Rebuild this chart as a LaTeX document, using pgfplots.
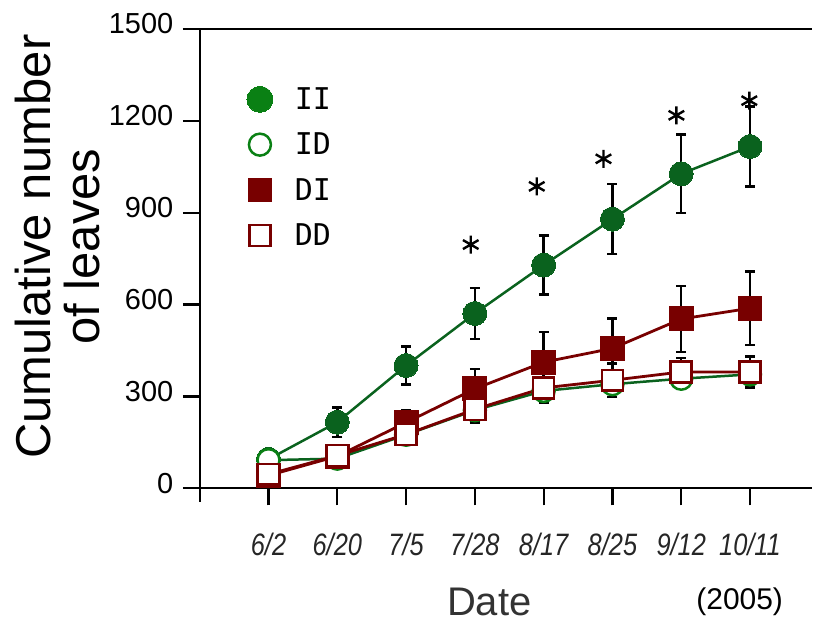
\documentclass[border=0pt]{standalone}
\usepackage{pgfplots}
\pgfplotsset{compat=1.18}
\usepackage{fontspec}
\setmainfont{Liberation Sans}
\newfontfamily\legfont{DejaVu Sans Mono}
\definecolor{gII}{RGB}{10,98,30}
\definecolor{gID}{RGB}{10,128,20}
\definecolor{rD}{RGB}{120,0,0}
\newcommand{\cl}[1]{\scalebox{0.82}[1]{#1}}
\pgfplotstableread{
x y e
0 95 10
1 216 48
2 401 62
3 571 83
4 729 96
5 879 114
6 1027 128
7 1116 130
}\dII
\pgfplotstableread{
x y e
0 92 8
1 97 12
2 175 18
3 255 22
4 318 30
5 340 30
6 358 28
7 372 30
}\dID
\pgfplotstableread{
x y e
0 42 6
1 105 10
2 215 40
3 325 65
4 412 99
5 457 98
6 553 107
7 588 120
}\dDI
\pgfplotstableread{
x y e
0 46 8
1 107 12
2 176 20
3 258 43
4 328 50
5 353 55
6 380 45
7 380 50
}\dDD
\pgfplotstableread{
x y
2.94 796
3.90 986
4.87 1076
5.93 1218
6.99 1266
}\dstar
\begin{document}
\begin{tikzpicture}
\begin{axis}[
  scale only axis, width=613pt, height=460pt,
  xmin=-1, xmax=7.9, ymin=0, ymax=1500,
  axis x line*=bottom, axis y line*=left,
  axis line style={line width=2.2pt, -},
  xtick={0,...,7},
  xticklabels={\cl{6/2},\cl{6/20},\cl{7/5},\cl{7/28},\cl{8/17},\cl{8/25},\cl{9/12},\cl{10/11}},
  ytick={0,300,...,1500},
  tick align=outside, major tick length=17pt,
  tick style={line width=2.2pt, black},
  xticklabel style={font=\fontsize{31}{31}\selectfont\itshape, text=black!85, yshift=-24pt},
  yticklabel style={font=\fontsize{29}{29}\selectfont, xshift=-6pt, yshift=5pt},
  /pgf/number format/assume math mode=true,
  /pgf/number format/1000 sep={},
  clip=false,
  legend style={at={(axis cs:-0.36,1322)}, anchor=north west, draw=none, fill=none,
    font=\legfont\fontsize{30}{30}\selectfont, row sep=18pt,
    nodes={inner sep=2pt},
    /tikz/every odd column/.append style={column sep=20pt}},
  legend cell align=left,
  legend image code/.code={\draw[#1] plot coordinates {(0pt,0pt)};},
]
\addlegendimage{only marks, mark=*, mark size=13pt, mark options={fill=gID, draw=gID, line width=0pt}}
\addlegendentry{II}
\addlegendimage{only marks, mark=*, mark size=11pt, mark options={fill=white, draw=gID, line width=2.5pt}}
\addlegendentry{ID}
\addlegendimage{only marks, mark=square*, mark size=11.5pt, mark options={fill=rD, draw=rD, line width=0pt}}
\addlegendentry{DI}
\addlegendimage{only marks, mark=square*, mark size=10.5pt, mark options={fill=white, draw=rD, line width=2.5pt}}
\addlegendentry{DD}

\addplot[forget plot, gII, line width=2.5pt, mark=*, mark size=12pt,
  mark options={fill=gII, draw=gII, line width=0pt},
  error bars/.cd, y dir=both, y explicit,
  error bar style={black, line width=2.5pt},
  error mark options={rotate=90, mark size=5pt, black, line width=2.5pt}]
  table[x=x, y=y, y error=e] {\dII};
\addplot[forget plot, gII, line width=2.5pt, mark=*, mark size=11pt,
  mark options={fill=white, draw=gID, line width=2.5pt},
  error bars/.cd, y dir=both, y explicit,
  error bar style={black, line width=2.5pt},
  error mark options={rotate=90, mark size=5pt, black, line width=2.5pt}]
  table[x=x, y=y, y error=e] {\dID};
\addplot[forget plot, rD, line width=2.8pt, mark=square*, mark size=12pt,
  mark options={fill=rD, draw=rD, line width=0pt},
  error bars/.cd, y dir=both, y explicit,
  error bar style={black, line width=2.5pt},
  error mark options={rotate=90, mark size=5pt, black, line width=2.5pt}]
  table[x=x, y=y, y error=e] {\dDI};
\addplot[forget plot, rD, line width=2.8pt, mark=square*, mark size=10.5pt,
  mark options={fill=white, draw=rD, line width=2.5pt},
  error bars/.cd, y dir=both, y explicit,
  error bar style={black, line width=2.5pt},
  error mark options={rotate=90, mark size=5pt, black, line width=2.5pt}]
  table[x=x, y=y, y error=e] {\dDD};
\addplot[forget plot, only marks, black, mark=asterisk, mark size=9pt,
  mark options={line width=2.4pt}] table[x=x, y=y] {\dstar};

\draw[line width=2.2pt] ([xshift=-17pt]rel axis cs:0,1) -- (rel axis cs:1,1);
\draw[line width=2.2pt] (rel axis cs:0,0) -- ([yshift=-14pt]rel axis cs:0,0);
\node[rotate=90, align=center, font=\fontsize{49}{49}\selectfont, inner sep=0pt]
  at ([xshift=-142pt]rel axis cs:0,0.526) {Cumulative number\\of leaves};
\node[font=\fontsize{40}{40}\selectfont, anchor=base, text=black!80, inner sep=0pt]
  at ([yshift=-127pt]axis cs:3.21,0) {Date};
\node[font=\fontsize{30}{30}\selectfont, anchor=base, inner sep=0pt]
  at ([yshift=-121pt]axis cs:6.85,0) {(2005)};
\path (rel axis cs:0,0) ++(-200pt,-134pt) coordinate (bbsw);
\end{axis}
\path (bbsw) rectangle ++(813pt,623pt);
\end{tikzpicture}
\end{document}
